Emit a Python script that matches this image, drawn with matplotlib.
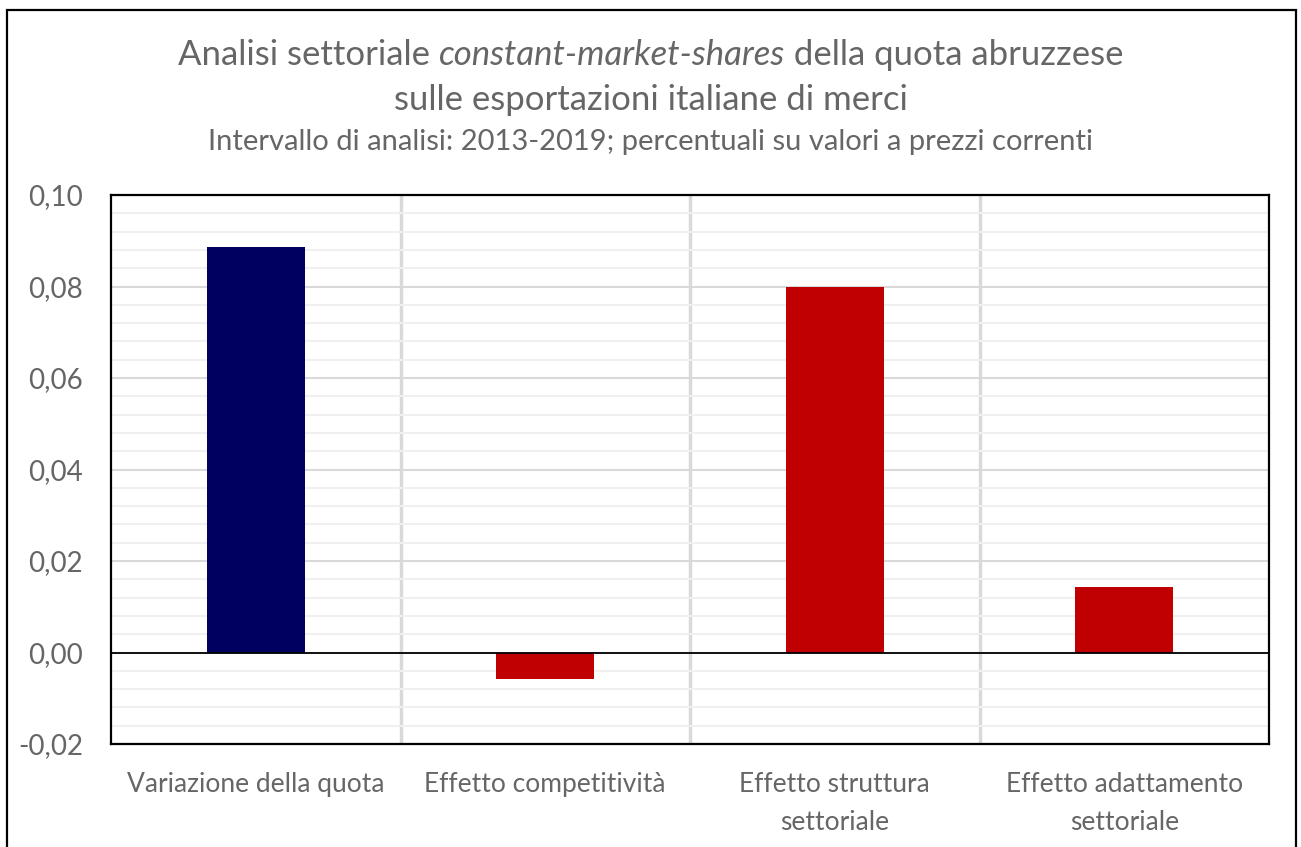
import matplotlib
matplotlib.use("Agg")
import matplotlib.pyplot as plt
from matplotlib.patches import Rectangle
from matplotlib.ticker import MultipleLocator, FuncFormatter

categories = ["Variazione della quota", "Effetto competitività",
              "Effetto struttura\nsettoriale", "Effetto adattamento\nsettoriale"]
values = [0.0886, -0.0058, 0.0799, 0.0143]
colors = ["#000060", "#C00000", "#C00000", "#C00000"]

title_pre = "Analisi settoriale "
title_it = "constant-market-shares"
title_post = " della quota abruzzese"
title_line2 = "sulle esportazioni italiane di merci"
subtitle = "Intervallo di analisi: 2013-2019; percentuali su valori a prezzi correnti"

FONT = "Lato"
GREY = "#666666"
plt.rcParams["font.family"] = [FONT, "DejaVu Sans"]

W, H = 1301, 847
fig = plt.figure(figsize=(W / 100, H / 100), dpi=100)
ax = fig.add_axes([111 / W, 1 - 744 / H, (1269 - 111) / W, (744 - 195) / H])

x = range(len(categories))
ax.bar(x, values, width=0.34, color=colors, zorder=3)
ax.set_xlim(-0.5, len(categories) - 0.5)
ax.set_ylim(-0.02, 0.10)
ax.yaxis.set_major_locator(MultipleLocator(0.02))
ax.yaxis.set_minor_locator(MultipleLocator(0.004))
ax.yaxis.set_major_formatter(FuncFormatter(lambda v, p: f"{v:.2f}".replace(".", ",")))
ax.grid(axis="y", which="major", color="#D9D9D9", lw=1.5, zorder=0)
ax.grid(axis="y", which="minor", color="#F0F0F0", lw=1.5, zorder=0)
for b in [0.5, 1.5, 2.5]:
    ax.axvline(b, color="#D9D9D9", lw=2.5, zorder=1)
ax.axhline(0, color="black", lw=1.3, zorder=4)
for s in ax.spines.values():
    s.set_color("black")
    s.set_linewidth(1.6)
ax.tick_params(axis="both", which="both", length=0)
ax.tick_params(axis="y", labelsize=20, labelcolor=GREY, pad=20)
ax.set_xticks(list(x))
ax.set_xticklabels(categories, fontsize=19, color=GREY, linespacing=1.65)
ax.tick_params(axis="x", pad=20)

# outer chart border
fig.patches.append(Rectangle((7 / W, -0.05), (1296 - 7) / W, 1.05 - 10 / H,
                             transform=fig.transFigure, fill=False,
                             edgecolor="black", lw=1.6))

# title with italic middle part
fig.canvas.draw()
r = fig.canvas.get_renderer()
tsize = 25
parts = [(title_pre, "normal"), (title_it, "italic"), (title_post, "normal")]
texts = [fig.text(0, 1 - 55 / H, t, fontsize=tsize, style=st, color=GREY,
                  va="center", ha="left") for t, st in parts]
widths = [t.get_window_extent(r).width for t in texts]
x0 = (W - sum(widths)) / 2
for t, w in zip(texts, widths):
    t.set_x(x0 / W)
    x0 += w
fig.text(0.5, 1 - 100 / H, title_line2, fontsize=tsize, color=GREY,
         ha="center", va="center")
fig.text(0.5, 1 - 142 / H, subtitle, fontsize=21, color=GREY,
         ha="center", va="center")

fig.savefig("out.png", dpi=100)
